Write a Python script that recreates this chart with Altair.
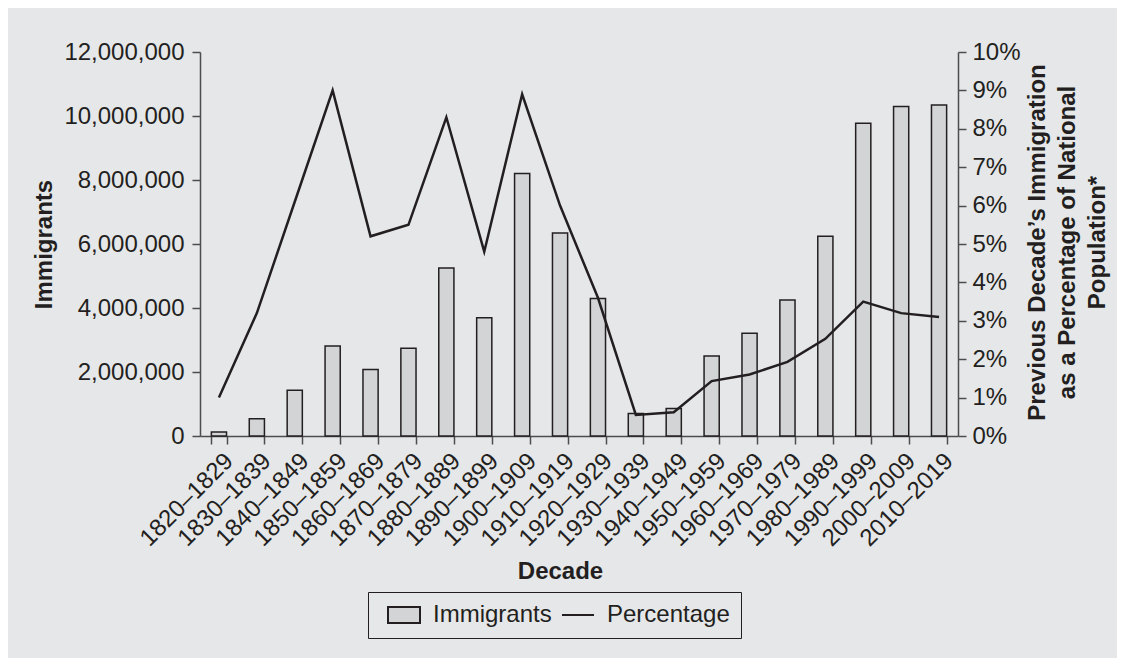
import altair as alt
import pandas as pd

decades = ["1820\u20131829", "1830\u20131839", "1840\u20131849", "1850\u20131859", "1860\u20131869",
           "1870\u20131879", "1880\u20131889", "1890\u20131899", "1900\u20131909", "1910\u20131919",
           "1920\u20131929", "1930\u20131939", "1940\u20131949", "1950\u20131959", "1960\u20131969",
           "1970\u20131979", "1980\u20131989", "1990\u20131999", "2000\u20132009", "2010\u20132019"]
immigrants = [128502, 538381, 1427337, 2814554, 2081261, 2742137, 5248568, 3694294, 8202388, 6347380,
              4295510, 699375, 856608, 2499268, 3213749, 4248203, 6244379, 9775398, 10299430, 10340000]
percentage = [1.0, 3.2, 6.1, 9.0, 5.2, 5.5, 8.3, 4.8, 8.9, 6.0,
              3.6, 0.55, 0.62, 1.43, 1.6, 1.93, 2.53, 3.5, 3.2, 3.1]
y_left_ticks = [0, 2000000, 4000000, 6000000, 8000000, 10000000, 12000000]
y_right_ticks = [0, 1, 2, 3, 4, 5, 6, 7, 8, 9, 10]
series_names = ["Immigrants", "Percentage"]

df = pd.DataFrame({"decade": decades, "immigrants": immigrants, "percentage": percentage})
legend_df = pd.DataFrame({"series": series_names})

DARK = "#231f20"
BARFILL = "#d3d4d6"
FONT = "Liberation Sans"
FS = 24

legend = alt.Legend(
    title=None, orient="none", legendX=168, legendY=540, direction="horizontal",
    padding=11, strokeColor=DARK, symbolSize=256, symbolOffset=13, labelFont=FONT,
    labelFontSize=FS, labelColor=DARK, labelOffset=17, symbolOpacity=1, symbolStrokeWidth=2,
)

x_enc = alt.X("decade:N", sort=decades,
              scale=alt.Scale(paddingInner=0.6, paddingOuter=0.3),
              axis=alt.Axis(title="Decade", tickBand="extent", labelAngle=315, labelAlign="right",
                            labelBaseline="middle", labelOffset=10, labelPadding=13, tickSize=8,
                            labelFontSize=FS, labelOverlap=False, titleFontSize=FS,
                            titleFontWeight="bold", titleX=360, titleY=142, titleAlign="center",
                            titleBaseline="alphabetic"))

bars = alt.Chart(df).mark_bar(fill=BARFILL, stroke=DARK, strokeWidth=1.5).encode(
    x=x_enc,
    y=alt.Y("immigrants:Q", scale=alt.Scale(domain=[0, 12000000]),
            axis=alt.Axis(orient="left", values=y_left_ticks, format=",d", tickSize=8,
                          labelPadding=8, labelFontSize=FS, title="Immigrants",
                          titleFontSize=FS, titleFontWeight="bold", titleAngle=270,
                          titleX=-149, titleY=192, titleAlign="center",
                          titleBaseline="alphabetic")),
)

line = alt.Chart(df).mark_line(color=DARK, strokeWidth=2.5).encode(
    x=x_enc,
    y=alt.Y("percentage:Q", scale=alt.Scale(domain=[0, 10]),
            axis=alt.Axis(orient="right", values=y_right_ticks, labelExpr="datum.value + '%'",
                          tickSize=8, labelPadding=6, labelFontSize=FS,
                          title=["Previous Decade\u2019s Immigration", "as a Percentage of National",
                                 "Population*"],
                          titleFontSize=FS, titleFontWeight="bold", titleAngle=270,
                          titleX=86, titleY=190, titleLineHeight=30, titleAlign="center",
                          titleBaseline="alphabetic")),
)

legend_layer = alt.Chart(legend_df).transform_filter("false").mark_point(strokeWidth=2).encode(
    fill=alt.Fill("series:N", scale=alt.Scale(domain=series_names, range=[BARFILL, DARK]),
                  legend=legend),
    stroke=alt.Stroke("series:N", scale=alt.Scale(domain=series_names, range=[DARK, DARK]),
                      legend=legend),
    shape=alt.Shape("series:N", scale=alt.Scale(domain=series_names,
                                                range=["M-2,-1H2V1H-2Z", "M-2,0H2"]),
                    legend=legend),
)

chart = alt.layer(bars, line, legend_layer).resolve_scale(y="independent").properties(
    width=758, height=384, background="#e6e7e9",
    autosize=alt.AutoSizeParams(type="none"),
    padding={"left": 192, "top": 44, "right": 159, "bottom": 222},
).configure(font=FONT).configure_view(stroke=None).configure_axis(
    grid=False, domainColor="#4d4d4f", tickColor="#4d4d4f", domainWidth=1.5, tickWidth=1.5,
    labelColor=DARK, titleColor=DARK, labelFont=FONT, titleFont=FONT
).configure_legend(columnPadding=1)

chart.save("out.html", embed_options={"renderer": "svg", "actions": False})
